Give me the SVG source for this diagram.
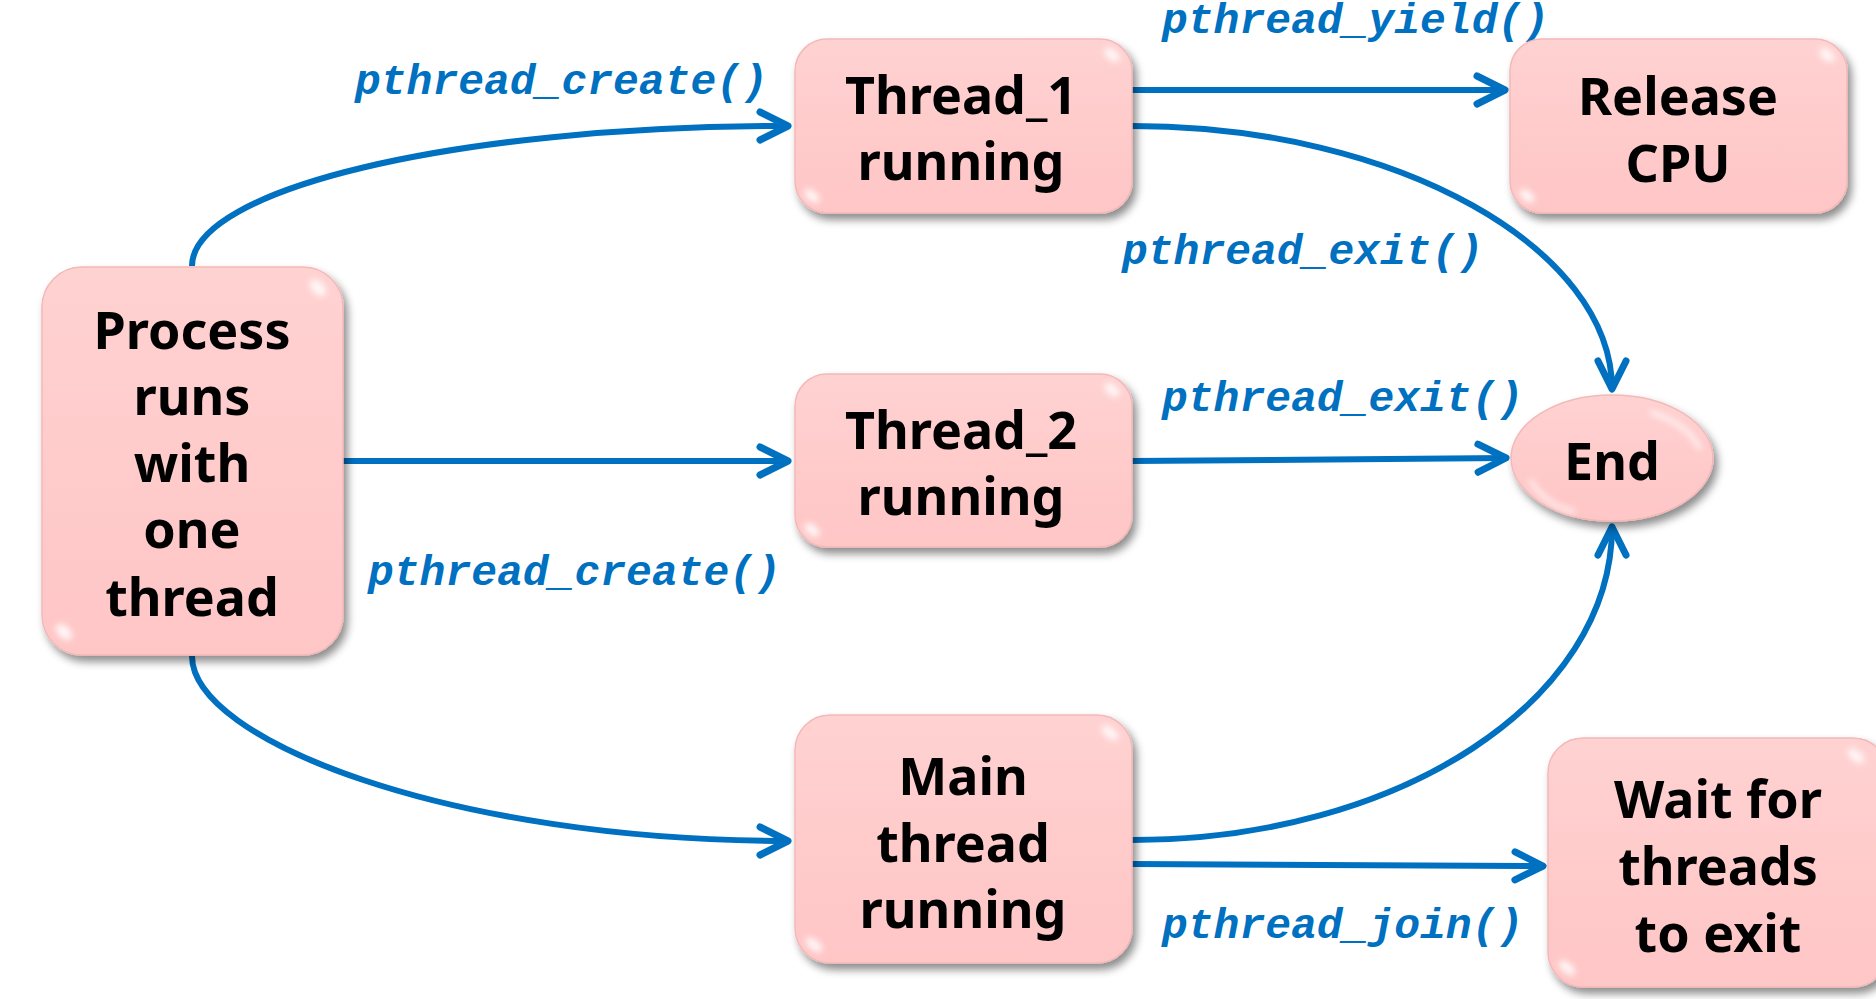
<svg xmlns="http://www.w3.org/2000/svg" width="1876" height="999" viewBox="0 0 1876 999">
<style>
.node{fill:url(#pink);stroke:#F4B8B8;stroke-width:1.5;filter:url(#shadow)}
.lbl{font-family:"Noto Sans","Open Sans",sans-serif;font-weight:bold;font-size:52px;fill:#000;text-anchor:middle}
.fn{font-family:"Liberation Mono","Courier New",monospace;font-weight:bold;font-style:italic;font-size:43px;fill:#0070C0}
.edge{fill:none;stroke:#0070C0;stroke-width:6;marker-end:url(#arr)}
.glint{fill:#fff;opacity:0.85;filter:url(#blur)}
</style>
<defs>
<linearGradient id="pink" x1="0" y1="0" x2="0" y2="1">
<stop offset="0" stop-color="#FFD2D2"/>
<stop offset="0.5" stop-color="#FFCBCB"/>
<stop offset="1" stop-color="#FFC6C6"/>
</linearGradient>
<filter id="shadow" x="-10%" y="-10%" width="125%" height="125%">
<feGaussianBlur in="SourceAlpha" stdDeviation="4"/>
<feOffset dx="4" dy="6" result="b"/>
<feFlood flood-color="#000" flood-opacity="0.45"/>
<feComposite in2="b" operator="in"/>
<feMerge><feMergeNode/><feMergeNode in="SourceGraphic"/></feMerge>
</filter>
<filter id="blur" x="-50%" y="-50%" width="200%" height="200%"><feGaussianBlur stdDeviation="3"/></filter>
<marker id="arr" markerUnits="userSpaceOnUse" viewBox="-36 -20 42 40" markerWidth="42" markerHeight="40" refX="0" refY="0" orient="auto" overflow="visible">
<path d="M-28,-14 L0,0 L-28,14" fill="none" stroke="#0070C0" stroke-width="7" stroke-linecap="round" stroke-linejoin="round"/>
</marker>
</defs>
<rect width="1876" height="999" fill="#fff"/>

<g id="connectors">
<path class="edge" d="M192,266 C192,190 450,126 788,126"/>
<path class="edge" d="M192,656 C192,740 450,841 788,841"/>
<path class="edge" d="M343,461 L788,461"/>
<path class="edge" d="M1132,90 L1505,90"/>
<path class="edge" d="M1132,126 C1400,126 1612,250 1612,389"/>
<path class="edge" d="M1132,461 L1506,458"/>
<path class="edge" d="M1132,840 C1400,840 1612,700 1612,527"/>
<path class="edge" d="M1132,864 L1543,866"/>
</g>

<g id="labels">
<text class="fn" x="355" y="94">pthread_create()</text>
<text class="fn" x="1162" y="33">pthread_yield()</text>
<text class="fn" x="1122" y="264">pthread_exit()</text>
<text class="fn" x="1162" y="411">pthread_exit()</text>
<text class="fn" x="368" y="585">pthread_create()</text>
<text class="fn" x="1162" y="938">pthread_join()</text>
</g>

<g id="process">
<rect class="node" x="42" y="267" width="301" height="388" rx="40"/>
<ellipse class="glint" cx="318" cy="288" rx="10" ry="6" transform="rotate(45 318 288)"/>
<ellipse class="glint" cx="64" cy="632" rx="10" ry="6" transform="rotate(45 64 632)"/>
<text class="lbl" x="192" y="349">Process</text>
<text class="lbl" x="192" y="415">runs</text>
<text class="lbl" x="192" y="482">with</text>
<text class="lbl" x="192" y="548">one</text>
<text class="lbl" x="192" y="616">thread</text>
</g>

<g id="thread1">
<rect class="node" x="795" y="39" width="337" height="174" rx="32"/>
<ellipse class="glint" cx="1112" cy="55" rx="9" ry="5" transform="rotate(40 1112 55)"/>
<ellipse class="glint" cx="812" cy="196" rx="9" ry="5" transform="rotate(40 812 196)"/>
<text class="lbl" x="961" y="114">Thread_1</text>
<text class="lbl" x="961" y="180">running</text>
</g>

<g id="release">
<rect class="node" x="1510" y="39" width="337" height="174" rx="32"/>
<ellipse class="glint" cx="1827" cy="55" rx="9" ry="5" transform="rotate(40 1827 55)"/>
<ellipse class="glint" cx="1527" cy="196" rx="9" ry="5" transform="rotate(40 1527 196)"/>
<text class="lbl" x="1678" y="115">Release</text>
<text class="lbl" x="1678" y="182">CPU</text>
</g>

<g id="thread2">
<rect class="node" x="795" y="374" width="337" height="173" rx="32"/>
<ellipse class="glint" cx="1112" cy="390" rx="9" ry="5" transform="rotate(40 1112 390)"/>
<ellipse class="glint" cx="812" cy="530" rx="9" ry="5" transform="rotate(40 812 530)"/>
<text class="lbl" x="961" y="449">Thread_2</text>
<text class="lbl" x="961" y="515">running</text>
</g>

<g id="end">
<ellipse class="node" cx="1612" cy="458" rx="101" ry="63"/>
<path d="M1650,412 Q1690,425 1700,450" fill="none" stroke="#fff" stroke-width="4" opacity="0.8" filter="url(#blur)"/>
<path d="M1530,480 Q1545,505 1575,512" fill="none" stroke="#fff" stroke-width="4" opacity="0.8" filter="url(#blur)"/>
<text class="lbl" x="1612" y="480">End</text>
</g>

<g id="main">
<rect class="node" x="795" y="715" width="337" height="248" rx="35"/>
<ellipse class="glint" cx="1110" cy="733" rx="10" ry="5" transform="rotate(40 1110 733)"/>
<ellipse class="glint" cx="814" cy="945" rx="10" ry="5" transform="rotate(40 814 945)"/>
<text class="lbl" x="963" y="795">Main</text>
<text class="lbl" x="963" y="862">thread</text>
<text class="lbl" x="963" y="928">running</text>
</g>

<g id="wait">
<rect class="node" x="1548" y="738" width="340" height="249" rx="35"/>
<ellipse class="glint" cx="1856" cy="756" rx="10" ry="5" transform="rotate(40 1856 756)"/>
<ellipse class="glint" cx="1567" cy="968" rx="10" ry="5" transform="rotate(40 1567 968)"/>
<text class="lbl" x="1718" y="818">Wait for</text>
<text class="lbl" x="1718" y="885">threads</text>
<text class="lbl" x="1718" y="952">to exit</text>
</g>
</svg>
